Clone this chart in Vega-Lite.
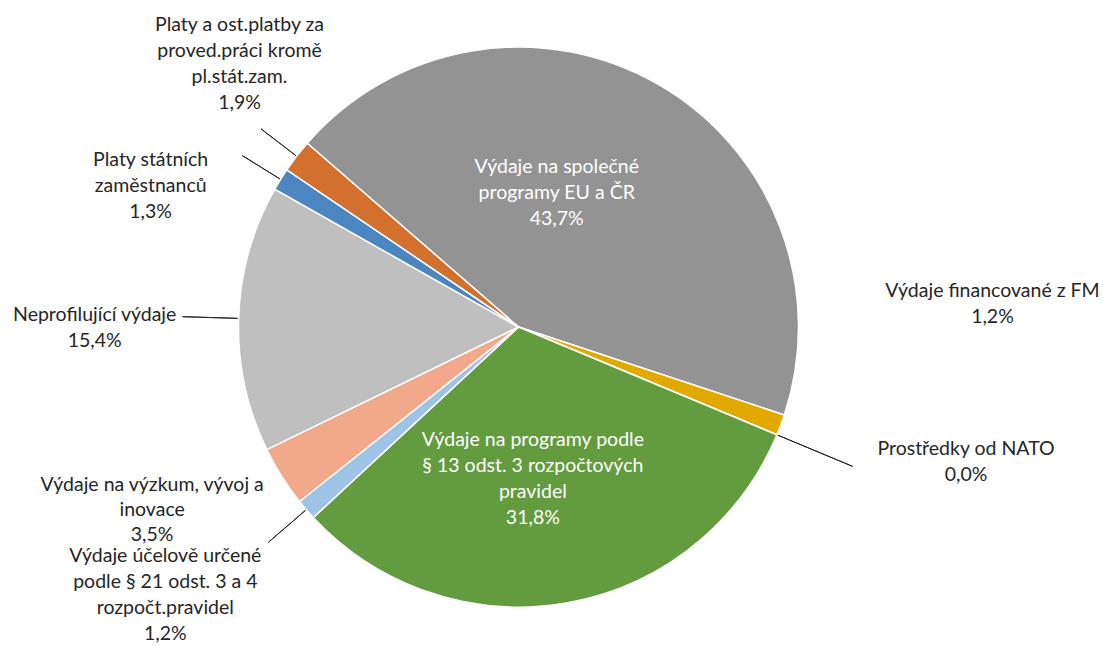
{
  "$schema": "https://vega.github.io/schema/vega-lite/v6.json",
  "width": 1037,
  "height": 638,
  "autosize": {"type": "none"},
  "padding": {"left": 0, "top": 8, "right": 66, "bottom": 0},
  "background": "white",
  "config": {"view": {"stroke": null}, "text": {"font": "Lato"}},
  "data": {
    "values": [
      {"idx": 1, "cat": "Výdaje na společné programy EU a ČR", "value": 43.7, "label": "Výdaje na společné\nprogramy EU a ČR\n43,7%"},
      {"idx": 2, "cat": "Výdaje financované z FM", "value": 1.2, "label": "Výdaje financované z FM\n1,2%"},
      {"idx": 3, "cat": "Prostředky od NATO", "value": 0.0, "label": "Prostředky od NATO\n0,0%"},
      {"idx": 4, "cat": "Výdaje na programy podle § 13 odst. 3 rozpočtových pravidel", "value": 31.8, "label": "Výdaje na programy podle\n§ 13 odst. 3 rozpočtových\npravidel\n31,8%"},
      {"idx": 5, "cat": "Výdaje účelově určené podle § 21 odst. 3 a 4 rozpočt.pravidel", "value": 1.2, "label": "Výdaje účelově určené\npodle § 21 odst. 3 a 4\nrozpočt.pravidel\n1,2%"},
      {"idx": 6, "cat": "Výdaje na výzkum, vývoj a inovace", "value": 3.5, "label": "Výdaje na výzkum, vývoj a\ninovace\n3,5%"},
      {"idx": 7, "cat": "Neprofilující výdaje", "value": 15.4, "label": "Neprofilující výdaje\n15,4%"},
      {"idx": 8, "cat": "Platy státních zaměstnanců", "value": 1.3, "label": "Platy státních\nzaměstnanců\n1,3%"},
      {"idx": 9, "cat": "Platy a ost.platby za proved.práci kromě pl.stát.zam.", "value": 1.9, "label": "Platy a ost.platby za\nproved.práci kromě\npl.stát.zam.\n1,9%"}
    ]
  },
  "encoding": {
    "theta": {"field": "value", "type": "quantitative", "stack": true, "scale": {"domain": [0, 100], "range": [-0.8552, 5.428]}},
    "order": {"field": "idx", "type": "quantitative"},
    "detail": {"field": "cat", "type": "nominal"}
  },
  "layer": [
    {
      "mark": {"type": "arc", "outerRadius": 280, "stroke": "white", "strokeWidth": 1.5},
      "encoding": {
        "color": {
          "field": "cat", "type": "nominal", "legend": null,
          "scale": {
            "domain": ["Výdaje na společné programy EU a ČR", "Výdaje financované z FM", "Prostředky od NATO", "Výdaje na programy podle § 13 odst. 3 rozpočtových pravidel", "Výdaje účelově určené podle § 21 odst. 3 a 4 rozpočt.pravidel", "Výdaje na výzkum, vývoj a inovace", "Neprofilující výdaje", "Platy státních zaměstnanců", "Platy a ost.platby za proved.práci kromě pl.stát.zam."],
            "range": ["#939393", "#E2AA00", "#5B9BD5", "#629C3F", "#9DC3E6", "#F2A98B", "#BFBFBF", "#4B86C1", "#D4702D"]
          }
        }
      }
    },
    {
      "mark": {"type": "arc", "radius": 336, "radius2": 281, "padAngle": 3.1, "stroke": "#262626", "strokeWidth": 1, "fillOpacity": 0},
      "encoding": {"strokeOpacity": {"condition": {"test": "datum.idx === 7", "value": 1}, "value": 0}}
    },
    {
      "mark": {"type": "arc", "radius": 325, "radius2": 281, "padAngle": 3.1, "stroke": "#262626", "strokeWidth": 1, "fillOpacity": 0},
      "encoding": {"strokeOpacity": {"condition": {"test": "datum.idx === 8 || datum.idx === 9", "value": 1}, "value": 0}}
    },
    {
      "mark": {"type": "arc", "radius": 330, "radius2": 281, "padAngle": 3.1, "stroke": "#262626", "strokeWidth": 1, "fillOpacity": 0},
      "encoding": {"strokeOpacity": {"condition": {"test": "datum.idx === 5", "value": 1}, "value": 0}}
    },
    {
      "mark": {"type": "arc", "radius": 362, "radius2": 281, "padAngle": 3.1, "stroke": "#262626", "strokeWidth": 1, "fillOpacity": 0},
      "encoding": {"strokeOpacity": {"condition": {"test": "datum.idx === 3", "value": 1}, "value": 0}}
    },
    {
      "mark": {"type": "text", "radius": 150, "dx": -36, "dy": -30, "fill": "white", "fontSize": 19.5, "lineHeight": 26, "align": "center", "baseline": "middle", "lineBreak": "\n"},
      "encoding": {"text": {"condition": {"test": "datum.idx === 1", "field": "label", "type": "nominal"}, "value": ""}}
    },
    {
      "mark": {"type": "text", "radius": 380, "dx": 118, "dy": -169, "fill": "#262626", "fontSize": 19.5, "lineHeight": 26, "align": "center", "baseline": "middle", "lineBreak": "\n"},
      "encoding": {"text": {"condition": {"test": "datum.idx === 2", "field": "label", "type": "nominal"}, "value": ""}}
    },
    {
      "mark": {"type": "text", "radius": 460, "dx": 23, "dy": -55, "fill": "#262626", "fontSize": 19.5, "lineHeight": 26, "align": "center", "baseline": "middle", "lineBreak": "\n"},
      "encoding": {"text": {"condition": {"test": "datum.idx === 3", "field": "label", "type": "nominal"}, "value": ""}}
    },
    {
      "mark": {"type": "text", "radius": 150, "dx": -12, "dy": -35, "fill": "white", "fontSize": 19.5, "lineHeight": 26, "align": "center", "baseline": "middle", "lineBreak": "\n"},
      "encoding": {"text": {"condition": {"test": "datum.idx === 4", "field": "label", "type": "nominal"}, "value": ""}}
    },
    {
      "mark": {"type": "text", "radius": 400, "dx": -50, "dy": -32, "fill": "#262626", "fontSize": 19.5, "lineHeight": 26, "align": "center", "baseline": "middle", "lineBreak": "\n"},
      "encoding": {"text": {"condition": {"test": "datum.idx === 5", "field": "label", "type": "nominal"}, "value": ""}}
    },
    {
      "mark": {"type": "text", "radius": 380, "dx": -45, "dy": -45, "fill": "#262626", "fontSize": 19.5, "lineHeight": 25, "align": "center", "baseline": "middle", "lineBreak": "\n"},
      "encoding": {"text": {"condition": {"test": "datum.idx === 6", "field": "label", "type": "nominal"}, "value": ""}}
    },
    {
      "mark": {"type": "text", "radius": 420, "dx": -4, "dy": 1, "fill": "#262626", "fontSize": 19.5, "lineHeight": 26, "align": "center", "baseline": "middle", "lineBreak": "\n"},
      "encoding": {"text": {"condition": {"test": "datum.idx === 7", "field": "label", "type": "nominal"}, "value": ""}}
    },
    {
      "mark": {"type": "text", "radius": 400, "dx": -28, "dy": 44, "fill": "#262626", "fontSize": 19.5, "lineHeight": 26, "align": "center", "baseline": "middle", "lineBreak": "\n"},
      "encoding": {"text": {"condition": {"test": "datum.idx === 8", "field": "label", "type": "nominal"}, "value": ""}}
    },
    {
      "mark": {"type": "text", "radius": 400, "dx": 38, "dy": -58, "fill": "#262626", "fontSize": 19.5, "lineHeight": 26, "align": "center", "baseline": "middle", "lineBreak": "\n"},
      "encoding": {"text": {"condition": {"test": "datum.idx === 9", "field": "label", "type": "nominal"}, "value": ""}}
    }
  ]
}
